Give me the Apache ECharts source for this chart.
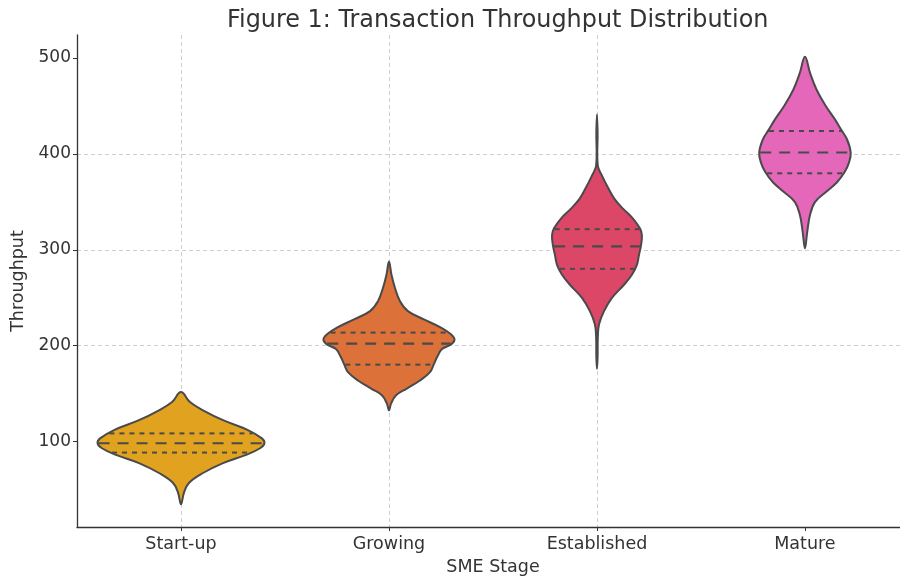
<!DOCTYPE html>
<html>
<head>
<meta charset="utf-8">
<script src="https://cdn.jsdelivr.net/npm/echarts@6/dist/echarts.min.js"></script>
<style>html,body{margin:0;padding:0;background:#fff;overflow:hidden;}#c{width:900px;height:581px;}</style>
</head>
<body>
<div id="c"></div>
<script>
// ---- data ----
const categories = ['Start-up', 'Growing', 'Established', 'Mature'];
const yTicks = [100, 200, 300, 400, 500];

// density profiles (value, half-width in category units)
const startupValues = [151.7, 141.3, 132.7, 122.4, 112.1, 103.4, 98.3, 93.1, 86.2, 77.6, 67.3, 56.9, 46.6, 34.6];
const startupWidths = [0, 0.043, 0.106, 0.202, 0.322, 0.389, 0.401, 0.380, 0.313, 0.202, 0.106, 0.038, 0.014, 0];

const growingValues = [287.8, 274.0, 260.2, 246.4, 236.1, 227.5, 218.9, 211.9, 206.8, 201.6, 196.5, 187.9, 180.9, 172.4, 163.8, 155.1, 148.3, 139.6, 132.7];
const growingWidths = [0, 0.012, 0.029, 0.053, 0.091, 0.168, 0.250, 0.298, 0.315, 0.300, 0.255, 0.231, 0.216, 0.197, 0.149, 0.084, 0.034, 0.010, 0];

const establishedValues = [441.1, 422.2, 387.7, 377.3, 363.6, 353.2, 342.9, 332.6, 322.2, 315.3, 305.0, 294.6, 284.3, 274.0, 263.6, 249.9, 236.1, 222.3, 208.5, 187.9, 175.8];
const establishedWidths = [0, 0.003, 0.004, 0.024, 0.056, 0.084, 0.125, 0.173, 0.207, 0.216, 0.212, 0.202, 0.192, 0.168, 0.130, 0.072, 0.034, 0.010, 0.004, 0.003, 0];

const matureValues = [501.4, 484.2, 466.9, 449.7, 436.0, 425.6, 415.3, 401.5, 391.2, 380.8, 370.5, 360.2, 349.8, 336.0, 318.8, 301.5];
const matureWidths = [0, 0.025, 0.056, 0.101, 0.144, 0.173, 0.202, 0.220, 0.212, 0.190, 0.154, 0.101, 0.048, 0.024, 0.011, 0];

const upperQuartiles = [108.6, 213.7, 321.5, 423.9];
const medians = [98.3, 202.3, 303.6, 401.5];
const lowerQuartiles = [88.6, 180.3, 280.2, 379.8];

const colors = ['#E1A31F', '#DD713A', '#DC4768', '#E467B9'];

// ---- chart ----
const profiles = [
  { v: startupValues, w: startupWidths },
  { v: growingValues, w: growingWidths },
  { v: establishedValues, w: establishedWidths },
  { v: matureValues, w: matureWidths }
];

function widthAt(p, val) {
  for (let i = 0; i < p.v.length - 1; i++) {
    const a = p.v[i], b = p.v[i + 1];
    if ((val <= a && val >= b)) {
      const t = (a - val) / (a - b);
      return p.w[i] + t * (p.w[i + 1] - p.w[i]);
    }
  }
  return 0;
}

const EDGE = '#4a4a4a';

function renderItem(params, api) {
  const idx = api.value(0);
  const p = profiles[idx];
  const bw = api.size([1, 0])[0];
  const pts = [];
  for (let i = 0; i < p.v.length; i++) {
    const c = api.coord([idx, p.v[i]]);
    pts.push([c[0] + p.w[i] * bw, c[1]]);
  }
  for (let i = p.v.length - 2; i >= 1; i--) {
    const c = api.coord([idx, p.v[i]]);
    pts.push([c[0] - p.w[i] * bw, c[1]]);
  }
  const children = [{
    type: 'polygon',
    shape: { points: pts, smooth: 0.4 },
    style: { fill: colors[idx], stroke: EDGE, lineWidth: 2 }
  }];
  const qs = [
    { val: upperQuartiles[idx], dash: [5, 5], lw: 2 },
    { val: medians[idx], dash: [11, 8], lw: 2.2 },
    { val: lowerQuartiles[idx], dash: [5, 5], lw: 2 }
  ];
  qs.forEach(q => {
    const c = api.coord([idx, q.val]);
    const hw = widthAt(p, q.val) * bw - 1;
    children.push({
      type: 'line',
      shape: { x1: c[0] - hw, y1: c[1], x2: c[0] + hw, y2: c[1] },
      style: { stroke: EDGE, lineWidth: q.lw, lineDash: q.dash }
    });
  });
  return { type: 'group', children: children };
}

const chart = echarts.init(document.getElementById('c'), null, { renderer: 'canvas', width: 900, height: 581 });
const FONT = 'DejaVu Sans';
const GRID_LINE = { color: '#c8c8c8', type: [4, 3], width: 0.9 };
chart.setOption({
  animation: false,
  backgroundColor: '#fff',
  title: {
    text: 'Figure 1: Transaction Throughput Distribution',
    left: 222, top: 4,
    textStyle: { fontFamily: FONT, fontSize: 23.9, fontWeight: 'normal', color: '#333' }
  },
  grid: { left: 77, width: 823, top: 35, height: 496, containLabel: false },
  xAxis: {
    type: 'value', min: -0.5, max: 3.457,
    name: 'SME Stage', nameLocation: 'middle', nameGap: 31,
    nameTextStyle: { fontFamily: FONT, fontSize: 17.5, color: '#333', padding: [0, 0, 0, 9] },
    axisLine: { onZero: false, lineStyle: { color: '#333', width: 1.3 } },
    axisTick: { show: true, length: 4, lineStyle: { color: '#333' }, customValues: [0, 1, 2, 3] },
    axisLabel: {
      customValues: [0, 1, 2, 3],
      fontFamily: FONT, fontSize: 17.5, color: '#333', margin: 8,
      formatter: v => (Number.isInteger(v) && categories[v] !== undefined) ? categories[v] : ''
    },
    splitLine: { show: true, showMinLine: true, showMaxLine: false, lineStyle: GRID_LINE }
  },
  yAxis: {
    type: 'value', min: 11, max: 524,
    name: 'Throughput', nameLocation: 'middle', nameGap: 42,
    nameTextStyle: { fontFamily: FONT, fontSize: 17.5, color: '#333' },
    axisLine: { show: true, onZero: false, lineStyle: { color: '#333', width: 1.3 } },
    axisTick: { show: true, length: 4, lineStyle: { color: '#333' }, customValues: yTicks },
    axisLabel: {
      customValues: yTicks,
      fontFamily: FONT, fontSize: 17, color: '#333', margin: 6,
      formatter: v => (v % 100 === 0 ? String(v) : '')
    },
    splitLine: { show: true, showMinLine: false, showMaxLine: false, lineStyle: GRID_LINE }
  },
  series: [{
    type: 'custom',
    renderItem: renderItem,
    data: categories.map((c, i) => [i]),
    encode: { x: 0 },
    clip: false
  }]
});
</script>
</body>
</html>
